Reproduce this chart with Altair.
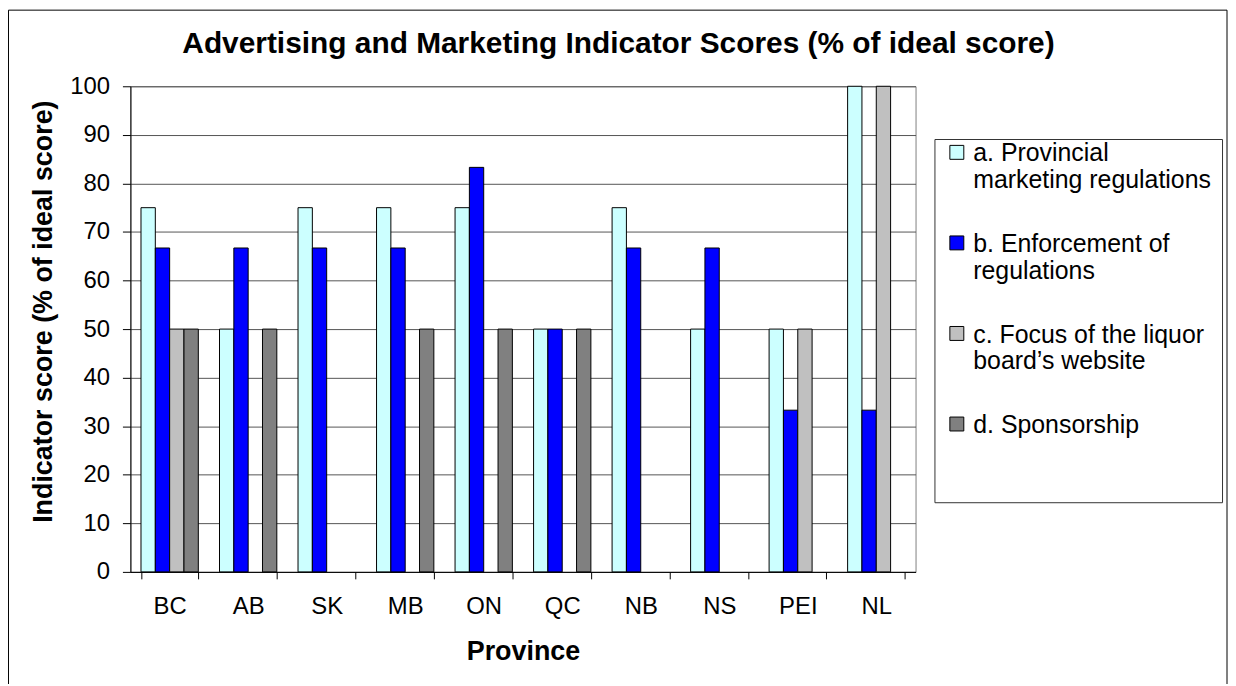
import altair as alt
import pandas as pd

provinces = ["BC", "AB", "SK", "MB", "ON", "QC", "NB", "NS", "PEI", "NL"]
series_names = [
    "a. Provincial|marketing regulations",
    "b. Enforcement of|regulations",
    "c. Focus of the liquor|board\u2019s website",
    "d. Sponsorship||",
]
series_colors = ["#CCFFFF", "#0000FF", "#C0C0C0", "#808080"]
series_a = [75, 50, 75, 75, 75, 50, 75, 50, 50, 100]
series_b = [66.7, 66.7, 66.7, 66.7, 83.3, 50, 66.7, 66.7, 33.3, 33.3]
series_c = [50, 0, 0, 0, 0, 0, 0, 0, 50, 100]
series_d = [50, 50, 0, 50, 50, 50, 0, 0, 0, 0]

rows = []
for name, vals in zip(series_names, [series_a, series_b, series_c, series_d]):
    for p, v in zip(provinces, vals):
        rows.append({"Province": p, "series": name, "value": v})
df = pd.DataFrame(rows)

FONT = "Liberation Sans"
W, H = 789, 488

bars = alt.Chart(df).transform_filter("datum.value > 0").mark_bar(
    stroke="black", strokeWidth=1
).encode(
    x=alt.X(
        "Province:N",
        sort=provinces,
        scale=alt.Scale(paddingInner=0.27, paddingOuter=0.135),
        axis=alt.Axis(
            title="Province", labelAngle=0, tickBand="extent", tickSize=7,
            labelFontSize=24, labelPadding=16, titleFontSize=27, titleFontWeight="bold",
            titlePadding=20, domainColor="black", tickColor="black", labelColor="black",
            titleColor="black", grid=False,
        ),
    ),
    xOffset=alt.XOffset("series:N", sort=series_names,
                        scale=alt.Scale(domain=series_names, paddingInner=0, paddingOuter=0)),
    y=alt.Y(
        "value:Q",
        scale=alt.Scale(domain=[0, 100], nice=False),
        axis=alt.Axis(
            title="Indicator score (% of ideal score)", values=list(range(0, 101, 10)),
            tickSize=8, labelFontSize=24, labelPadding=13, titleFontSize=27,
            titleFontWeight="bold", titlePadding=12, titleY=226, domainColor="black",
            tickColor="black", labelColor="black", titleColor="black", grid=True,
            gridColor="#555555", gridWidth=1,
        ),
    ),
    color=alt.Color(
        "series:N",
        sort=series_names,
        scale=alt.Scale(domain=series_names, range=series_colors),
        legend=alt.Legend(
            title=None, orient="none", legendX=808, legendY=53,
            labelExpr="split(datum.label, '|')", labelFontSize=25, labelBaseline="alphabetic",
            labelColor="black", labelOffset=4, labelLimit=400,
            symbolType="M-1,-2.3H1V-0.3H-1Z", symbolSize=196, symbolStrokeColor="black",
            symbolStrokeWidth=1, symbolOpacity=1,
            rowPadding=38, padding=10, fillColor="white", strokeColor="#333333",
        ),
    ),
)

frame = alt.Chart(alt.Data(values=[{"f": 1}])).mark_rect(
    filled=False, stroke="black", strokeWidth=1
).encode(
    x=alt.value(-122.5), x2=alt.value(1102), y=alt.value(-76.5), y2=alt.value(700)
)

chart = alt.layer(frame, bars).properties(
    width=W, height=H,
    title=alt.Title(
        "Advertising and Marketing Indicator Scores (% of ideal score)",
        fontSize=30, fontWeight="bold", font=FONT, color="black",
        anchor="middle", dx=96, offset=-50,
    ),
    padding={"left": 123, "top": 77, "right": 314, "bottom": 111},
    autosize=alt.AutoSizeParams(type="none"),
).configure(font=FONT).configure_view(stroke="#808080", strokeWidth=1)

chart.save("out.html", embed_options={"renderer": "svg", "actions": False})
